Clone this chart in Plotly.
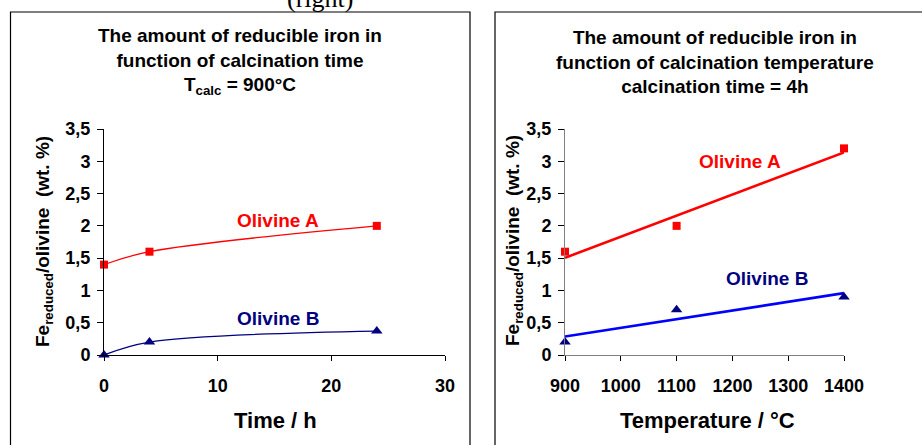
import numpy as np
import plotly.graph_objects as go

# ---- data ----
time_h = [0, 4, 24]
time_olivine_a = [1.4, 1.6, 2.0]
time_olivine_b = [0.0, 0.2, 0.37]

temp_c = [900, 1100, 1400]
temp_olivine_a = [1.6, 2.0, 3.2]
temp_olivine_b = [0.2, 0.7, 0.9]

y_tickvals = [0, 0.5, 1, 1.5, 2, 2.5, 3, 3.5]
y_ticktext = ["0", "0,5", "1", "1,5", "2", "2,5", "3", "3,5"]
time_ticks = [0, 10, 20, 30]
temp_ticks = [900, 1000, 1100, 1200, 1300, 1400]

W, H = 922, 445
FONT = "Liberation Sans, Arial, sans-serif"
RED = "#FF0000"
NAVY = "#000080"
BLUE = "#0000FF"


def px_x(p):
    return p / W


def px_y(p):
    return 1 - p / H


fig = go.Figure()

# left panel: calcination time
fig.add_trace(go.Scatter(x=time_h, y=time_olivine_a, mode="lines+markers",
                         line=dict(color=RED, width=1.3, shape="spline", smoothing=1.0),
                         marker=dict(symbol="square", size=8, color=RED),
                         xaxis="x", yaxis="y", cliponaxis=False, showlegend=False))
fig.add_trace(go.Scatter(x=time_h, y=time_olivine_b, mode="lines+markers",
                         line=dict(color=NAVY, width=1.3, shape="spline", smoothing=1.0),
                         marker=dict(symbol="triangle-up", size=10, color=NAVY),
                         xaxis="x", yaxis="y", cliponaxis=False, showlegend=False))

# right panel: calcination temperature, markers + least-squares trend lines
for ys, mcol, lcol, sym, msize in [(temp_olivine_a, RED, RED, "square", 8),
                                   (temp_olivine_b, NAVY, BLUE, "triangle-up", 10)]:
    k, b = np.polyfit(temp_c, ys, 1)
    xs = [min(temp_c), max(temp_c)]
    fig.add_trace(go.Scatter(x=xs, y=[k * v + b for v in xs], mode="lines",
                             line=dict(color=lcol, width=2.6),
                             xaxis="x2", yaxis="y2", cliponaxis=False, showlegend=False))
    fig.add_trace(go.Scatter(x=temp_c, y=ys, mode="markers",
                             marker=dict(symbol=sym, size=msize, color=mcol),
                             xaxis="x2", yaxis="y2", cliponaxis=False, showlegend=False))

tickfont = dict(family=FONT, size=18, color="black", weight="bold")
common_y = dict(range=[0, 3.5], tickvals=y_tickvals, ticktext=y_ticktext,
                ticks="outside", ticklen=6, tickwidth=1, tickcolor="black",
                showgrid=False, zeroline=False, showline=True, linewidth=1,
                tickfont=tickfont, ticklabelstandoff=3)
common_x = dict(ticks="outside", ticklen=5, tickwidth=1, tickcolor="black",
                showgrid=False, zeroline=False, showline=True, linewidth=1,
                tickfont=tickfont, ticklabelstandoff=9)

y_dom = [px_y(355), px_y(129)]
fig.update_layout(
    xaxis=dict(domain=[px_x(104), px_x(445)], range=[0, 30], tickvals=time_ticks,
               anchor="y", linecolor="black", **common_x),
    yaxis=dict(domain=y_dom, anchor="x", linecolor="black", **common_y),
    xaxis2=dict(domain=[px_x(565), px_x(844)], range=[900, 1400], tickvals=temp_ticks,
                anchor="y2", linecolor="#808080", **common_x),
    yaxis2=dict(domain=y_dom, anchor="x2", linecolor="#808080", **common_y),
)

ann = []


def text(x, y, s, size, color="black", xref="paper", yref="paper", angle=0, family=FONT, bold=True):
    ann.append(dict(x=x, y=y, xref=xref, yref=yref, text=f"<b>{s}</b>" if bold else s,
                    showarrow=False, textangle=angle, xanchor="center", yanchor="middle",
                    font=dict(family=family, size=size, color=color)))


# titles
text(px_x(240), px_y(62), "The amount of reducible iron in<br>function of calcination time<br>T<sub>calc</sub> = 900°C", 19)
text(px_x(715), px_y(62), "The amount of reducible iron in<br>function of calcination temperature<br>calcination time = 4h", 19)
# axis titles
text(px_x(275), px_y(420), "Time / h", 22)
text(px_x(707), px_y(420), "Temperature / °C", 22)
ytitle = "Fe<sub>reduced</sub>/olivine  (wt. %)"
text(px_x(44), px_y(242), ytitle, 19, angle=-90)
text(px_x(514), px_y(241), ytitle, 19, angle=-90)
# series labels
text(15.3, 2.09, "Olivine A", 19, RED, "x", "y")
text(15.3, 0.57, "Olivine B", 19, NAVY, "x", "y")
text(1213, 3.0, "Olivine A", 19, RED, "x2", "y2")
text(1262, 1.19, "Olivine B", 19, NAVY, "x2", "y2")
# cut-off caption at the top
text(px_x(320), px_y(-2), "(right)", 26, family="Liberation Serif, Times New Roman, serif", bold=False)

fig.update_layout(
    annotations=ann,
    shapes=[
        dict(type="rect", xref="paper", yref="paper", x0=px_x(10.5), x1=px_x(470),
             y0=px_y(460), y1=px_y(12), line=dict(color="black", width=1.2)),
        dict(type="rect", xref="paper", yref="paper", x0=px_x(495), x1=px_x(940),
             y0=px_y(460), y1=px_y(12), line=dict(color="black", width=1.2)),
    ],
    width=W, height=H, autosize=False,
    margin=dict(l=0, r=0, t=0, b=0, autoexpand=False),
    paper_bgcolor="white", plot_bgcolor="white",
    font=dict(family=FONT, color="black"),
)

fig.write_html("out.html", config={"displayModeBar": False})
